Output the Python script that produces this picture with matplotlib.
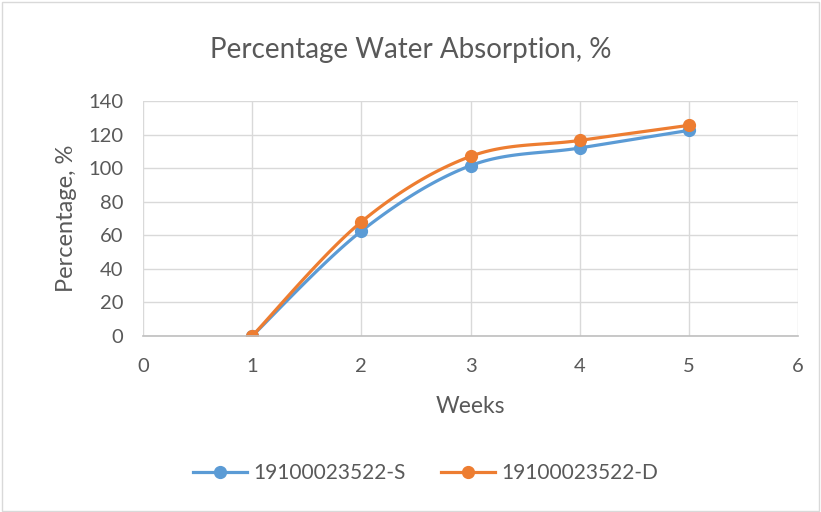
import numpy as np
import matplotlib
matplotlib.use("Agg")
import matplotlib.pyplot as plt
from matplotlib.patches import Rectangle

weeks = [1, 2, 3, 4, 5]
series_s = [0, 62.5, 101.5, 112, 122.5]
series_d = [0, 68, 107, 116.5, 125.5]
labels = ["19100023522-S", "19100023522-D"]
colors = ["#5B9BD5", "#ED7D31"]

plt.rcParams['font.family'] = ['Lato', 'DejaVu Sans']
txt = "#595959"


def smooth(x, y, n=30):
    # Catmull-Rom style smoothing like Excel smoothed lines
    x = np.asarray(x, float); y = np.asarray(y, float)
    px = np.concatenate([[x[0]], x, [x[-1]]])
    py = np.concatenate([[y[0]], y, [y[-1]]])
    xs, ys = [], []
    for i in range(1, len(px) - 2):
        p0 = np.array([px[i-1], py[i-1]]); p1 = np.array([px[i], py[i]])
        p2 = np.array([px[i+1], py[i+1]]); p3 = np.array([px[i+2], py[i+2]])
        c1 = p1 + (p2 - p0) / 6.0
        c2 = p2 - (p3 - p1) / 6.0
        t = np.linspace(0, 1, n)[:, None]
        b = (1-t)**3*p1 + 3*(1-t)**2*t*c1 + 3*(1-t)*t**2*c2 + t**3*p2
        xs.extend(b[:, 0]); ys.extend(b[:, 1])
    return xs, ys


fig = plt.figure(figsize=(8.21, 5.12), dpi=100)
fig.patches.append(Rectangle((0.002, 0.002), 0.996, 0.994, transform=fig.transFigure,
                             fill=False, edgecolor="#D9D9D9", linewidth=1))
ax = fig.add_axes([143/821, 1-336/512, (798-143)/821, (336-101)/512])

for ys, lab, c in zip([series_s, series_d], labels, colors):
    sx, sy = smooth(weeks, ys)
    ax.plot(sx, sy, color=c, linewidth=2.3, solid_capstyle='round')
    ax.plot(weeks, ys, linestyle='none', marker='o', markersize=8.5, color=c)
    ax.plot([], [], color=c, linewidth=2.3, marker='o', markersize=8.5, label=lab)

ax.set_xlim(0, 6)
ax.set_ylim(0, 140)
ax.set_xticks(range(0, 7))
ax.set_yticks(range(0, 141, 20))
ax.grid(True, color="#D9D9D9", linewidth=1)
ax.set_axisbelow(True)
for s in ['top', 'right', 'left']:
    ax.spines[s].set_visible(False)
ax.spines['bottom'].set_color("#BFBFBF")
ax.spines['bottom'].set_linewidth(1.2)
ax.tick_params(length=0, labelsize=14.5, labelcolor=txt)
ax.tick_params(axis='x', pad=16)
ax.tick_params(axis='y', pad=14)

ax.set_xlabel("Weeks", fontsize=16.5, color=txt, labelpad=15)
ax.set_ylabel("Percentage, %", fontsize=17, color=txt, labelpad=8)
fig.text(0.5, 1-50/512, "Percentage Water Absorption, %", ha='center', va='center',
         fontsize=20, color=txt)

fig.legend(loc='center', bbox_to_anchor=(0.518, 1-473/512), ncol=2, frameon=False,
           fontsize=15, labelcolor=txt, handlelength=2.6, columnspacing=1.7, handletextpad=0.3)

fig.savefig("out.png", dpi=100)
